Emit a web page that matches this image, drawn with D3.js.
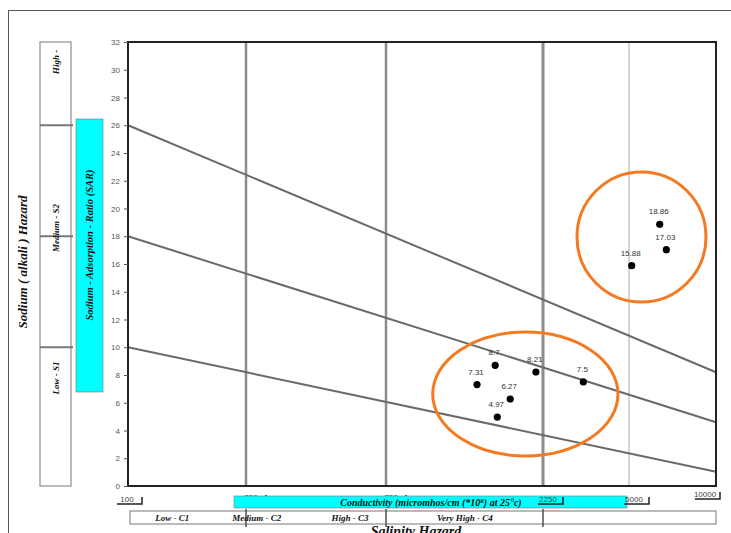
<!DOCTYPE html>
<html>
<head>
<meta charset="utf-8">
<script src="https://cdn.jsdelivr.net/npm/d3@7"></script>
<style>
  html, body { margin: 0; padding: 0; background: #fff; }
  svg { display: block; }
  .serif { font-family: "Liberation Serif", "Times New Roman", serif; font-style: italic; font-weight: bold; fill: #111; }
  .sans { font-family: "Liberation Sans", Arial, sans-serif; }
</style>
</head>
<body>
<svg id="chart" width="731" height="533"></svg>
<script>
// Conductivity class boundaries (micromhos/cm) and axis tick labels
const ecBreaks = [100, 250, 750, 2250, 5000, 10000];
const ecTickLabels = ["100", "250", "750", "2250", "5000", "10000"];
// SAR axis ticks
const sarTicks = [0, 2, 4, 6, 8, 10, 12, 14, 16, 18, 20, 22, 24, 26, 28, 30, 32];

// Water samples
const sampleEC = [1418, 1610, 1789, 1634, 2141, 3272, 5108, 6386, 6732];
const sampleSAR = [7.31, 8.7, 6.27, 4.97, 8.21, 7.5, 15.88, 18.86, 17.03];

// Sodium hazard boundaries: SAR at EC = 100 and at EC = 10000
const hazardSarStart = [26, 18, 10];
const hazardSarEnd = [8.2, 4.6, 1.03];

// Sodium hazard classes
const sodiumClasses = ["Low - S1", "Medium - S2", "High -"];

// Salinity hazard classes and the conductivity at which each label sits
const salinityClasses = ["Low - C1", "Medium - C2", "High - C3", "Very High - C4"];
const salinityLabelEC = [141, 272, 565, 1303];

// Sample groups outlined on the chart (EC range, SAR range)
const groupEcMin = [1040, 3085];
const groupEcMax = [4514, 9233];
const groupSarMin = [2.16, 13.26];
const groupSarMax = [11.1, 22.63];

const svg = d3.select("#chart");

const plot = { left: 128, right: 716, top: 42, bottom: 486 };

// Piecewise logarithmic conductivity scale
const x = d3.scaleLog()
  .domain(ecBreaks)
  .range([plot.left, 246, 386, 543, 629, plot.right]);
const y = d3.scaleLinear().domain([0, 32]).range([plot.bottom, plot.top]);

// Outer frame
svg.append("rect")
  .attr("x", 8.5).attr("y", 10.5).attr("width", 760).attr("height", 560)
  .attr("fill", "none").attr("stroke", "#555").attr("stroke-width", 1);

// Vertical class boundaries
const gridColor = ["#8c8c8c", "#8c8c8c", "#8c8c8c", "#d4d4d4"];
const gridWidth = [2.5, 2.5, 3, 2];
svg.append("g").selectAll("line")
  .data(ecBreaks.slice(1, 5))
  .join("line")
  .attr("x1", d => x(d)).attr("x2", d => x(d))
  .attr("y1", plot.top).attr("y2", plot.bottom)
  .attr("stroke", (d, i) => gridColor[i])
  .attr("stroke-width", (d, i) => gridWidth[i]);

// Sodium hazard boundary lines
const line = d3.line().x(d => x(d[0])).y(d => y(d[1]));
svg.append("g").selectAll("path")
  .data(hazardSarStart.map((s, i) => [[ecBreaks[0], s], [ecBreaks[5], hazardSarEnd[i]]]))
  .join("path")
  .attr("d", line)
  .attr("fill", "none")
  .attr("stroke", "#6a6a6a")
  .attr("stroke-width", 2);

// Plot border
svg.append("rect")
  .attr("x", plot.left).attr("y", plot.top)
  .attr("width", plot.right - plot.left).attr("height", plot.bottom - plot.top)
  .attr("fill", "none").attr("stroke", "#222").attr("stroke-width", 2);

// SAR axis
const yAxis = svg.append("g")
  .attr("transform", `translate(${plot.left},0)`)
  .call(d3.axisLeft(y).tickValues(sarTicks).tickSize(4).tickPadding(4));
yAxis.select(".domain").remove();
yAxis.selectAll("line").attr("stroke", "#555");
yAxis.selectAll("text")
  .attr("class", "sans")
  .attr("font-size", 8)
  .attr("fill", "#555");

// Sample group outlines
svg.append("g").selectAll("ellipse")
  .data(groupEcMin.map((d, i) => i))
  .join("ellipse")
  .attr("cx", i => (x(groupEcMin[i]) + x(groupEcMax[i])) / 2)
  .attr("cy", i => (y(groupSarMin[i]) + y(groupSarMax[i])) / 2)
  .attr("rx", i => (x(groupEcMax[i]) - x(groupEcMin[i])) / 2)
  .attr("ry", i => (y(groupSarMin[i]) - y(groupSarMax[i])) / 2)
  .attr("fill", "none")
  .attr("stroke", "#f47a22")
  .attr("stroke-width", 3);

// Samples
const samples = sampleEC.map((e, i) => ({ ec: e, sar: sampleSAR[i] }));
svg.append("g").selectAll("circle")
  .data(samples)
  .join("circle")
  .attr("cx", d => x(d.ec))
  .attr("cy", d => y(d.sar))
  .attr("r", 3.6)
  .attr("fill", "#000");
svg.append("g").selectAll("text")
  .data(samples)
  .join("text")
  .attr("class", "sans")
  .attr("x", d => x(d.ec) - 1)
  .attr("y", d => y(d.sar) - 10)
  .attr("text-anchor", "middle")
  .attr("font-size", 8)
  .attr("fill", "#333")
  .text(d => d.sar);

// Conductivity tick labels with their bracket marks
function drawTick(g, i) {
  const v = ecBreaks[i];
  const last = i === ecBreaks.length - 1;
  const cx = last ? x(v) - 11 : x(v) + (i === 0 ? -1 : 5);
  const ty = last ? 497 : (i === 1 || i === 2 ? 500 : 502);
  g.append("text")
    .attr("class", "sans")
    .attr("x", cx).attr("y", ty)
    .attr("text-anchor", "middle")
    .attr("font-size", 8)
    .attr("fill", "#444")
    .text(ecTickLabels[i]);
  const x1 = cx - 10, x2 = cx + 15;
  g.append("path")
    .attr("d", `M${x1},${ty + 2}H${x2}V${ty - 5}`)
    .attr("fill", "none")
    .attr("stroke", "#222")
    .attr("stroke-width", 1.5);
}
// The 250 and 750 labels sit behind the title band
const ticksBehind = svg.append("g");
[1, 2].forEach(i => drawTick(ticksBehind, i));

// Conductivity axis title
svg.append("rect")
  .attr("x", 234).attr("y", 496).attr("width", 393).attr("height", 12)
  .attr("fill", "#00ffff").attr("stroke", "#777").attr("stroke-width", 0.6);
const condTitle = svg.append("text")
  .attr("class", "serif")
  .attr("x", 431).attr("y", 506)
  .attr("text-anchor", "middle")
  .attr("font-size", 10);
condTitle.append("tspan").text("Conductivity (micromhos/cm (*10");
condTitle.append("tspan").attr("dy", -3).attr("font-size", 7).text("6");
condTitle.append("tspan").attr("dy", 3).text(") at 25°c)");

const ticksFront = svg.append("g");
[0, 3, 4, 5].forEach(i => drawTick(ticksFront, i));

// Salinity hazard row
svg.append("rect")
  .attr("x", 130).attr("y", 511).attr("width", 586).attr("height", 13)
  .attr("fill", "#fff").attr("stroke", "#777").attr("stroke-width", 1);
svg.append("g").selectAll("line")
  .data(ecBreaks.slice(1, 4))
  .join("line")
  .attr("x1", d => x(d)).attr("x2", d => x(d))
  .attr("y1", 509).attr("y2", 527)
  .attr("stroke", "#444").attr("stroke-width", 1.4);
svg.append("g").selectAll("text")
  .data(salinityClasses)
  .join("text")
  .attr("class", "serif")
  .attr("x", (d, i) => x(salinityLabelEC[i]))
  .attr("y", 521)
  .attr("text-anchor", "middle")
  .attr("font-size", 9)
  .text(d => d);
svg.append("text")
  .attr("class", "serif")
  .attr("x", 416).attr("y", 536)
  .attr("text-anchor", "middle")
  .attr("font-size", 14)
  .text("Salinity  Hazard");

// Sodium hazard column
svg.append("rect")
  .attr("x", 40).attr("y", y(32)).attr("width", 31).attr("height", y(0) - y(32))
  .attr("fill", "#fff").attr("stroke", "#777").attr("stroke-width", 1);
svg.append("g").selectAll("line")
  .data(hazardSarStart)
  .join("line")
  .attr("x1", 40).attr("x2", 73)
  .attr("y1", d => y(d)).attr("y2", d => y(d))
  .attr("stroke", "#777").attr("stroke-width", 2);
const sodiumLabelY = [378, 228, 62];
svg.append("g").selectAll("text")
  .data(sodiumClasses)
  .join("text")
  .attr("class", "serif")
  .attr("transform", (d, i) => `translate(59,${sodiumLabelY[i]}) rotate(-90)`)
  .attr("text-anchor", "middle")
  .attr("font-size", 9)
  .text(d => d);

// SAR axis title
svg.append("rect")
  .attr("x", 76).attr("y", 119).attr("width", 27).attr("height", 273)
  .attr("fill", "#00ffff").attr("stroke", "#777").attr("stroke-width", 0.6);
svg.append("text")
  .attr("class", "serif")
  .attr("transform", "translate(93,245) rotate(-90)")
  .attr("text-anchor", "middle")
  .attr("font-size", 10.5)
  .text("Sodium - Adsorption - Ratio (SAR)");

svg.append("text")
  .attr("class", "serif")
  .attr("transform", "translate(27,262) rotate(-90)")
  .attr("text-anchor", "middle")
  .attr("font-size", 13)
  .text("Sodium ( alkali ) Hazard");
</script>
</body>
</html>
